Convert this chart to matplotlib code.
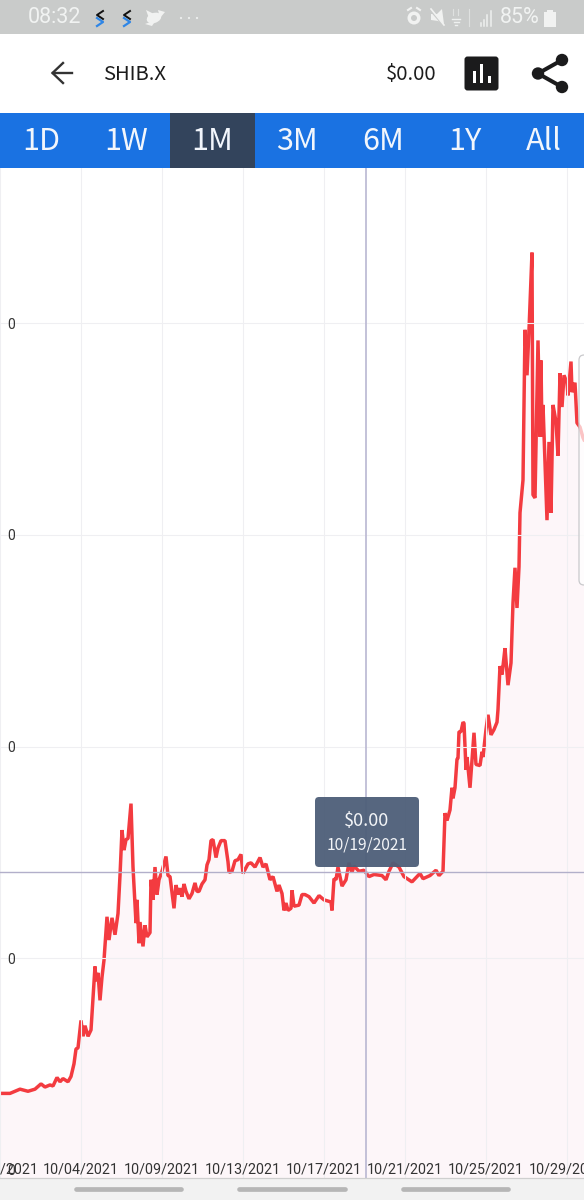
import matplotlib
matplotlib.use("Agg")
import matplotlib.pyplot as plt
from matplotlib.patches import FancyBboxPatch, Rectangle, Circle, Ellipse, Polygon

# SHIB.X hourly samples, price in units of 1e-5 USD
sample_idx = [0, 10, 20, 28, 35, 41, 45, 50, 53, 57, 60, 63, 68, 71, 74, 76, 78, 81, 83, 85,
              88, 91, 95, 96, 98, 100, 102, 104, 107, 109, 112, 115, 118, 120, 122, 124, 126, 128, 131, 133,
              136, 137, 139, 140, 143, 145, 147, 150, 151, 153, 155, 157, 159, 162, 166, 168, 170, 174, 176, 178,
              180, 182, 184, 186, 189, 192, 195, 197, 199, 202, 205, 207, 209, 211, 213, 216, 218, 221, 225, 228,
              229, 232, 235, 238, 241, 243, 248, 251, 255, 260, 263, 266, 270, 273, 277, 279, 282, 284, 286, 288,
              291, 292, 294, 299, 302, 305, 309, 314, 319, 324, 331, 332, 334, 336, 338, 342, 346, 349, 352, 354,
              359, 364, 369, 374, 382, 386, 389, 393, 399, 404, 412, 420, 423, 430, 436, 439, 443, 445, 447, 450,
              452, 453, 455, 457, 458, 459, 461, 463, 464, 466, 467, 470, 472, 474, 476, 480, 482, 483, 486, 488,
              491, 494, 497, 498, 500, 502, 503, 505, 508, 511, 513, 515, 517, 519, 520, 523, 525, 527, 529, 532,
              533, 535, 538, 540, 541, 542, 543, 545, 547, 549, 551, 553, 556, 558, 560, 562, 564, 567, 568, 571,
              572, 575, 577, 580, 583, 584]
price = [0.72, 0.72, 0.76, 0.74, 0.76, 0.81, 0.78, 0.80, 0.79, 0.87, 0.83, 0.86, 0.83, 0.88, 1.00, 1.14, 1.15, 1.41, 1.26, 1.36,
         1.26, 1.32, 1.92, 1.78, 1.86, 1.60, 1.82, 1.98, 2.39, 2.17, 2.38, 2.22, 2.42, 2.78, 3.21, 3.02, 3.12, 3.13, 3.46, 2.86,
         2.33, 2.55, 2.14, 2.34, 2.11, 2.31, 2.20, 2.24, 2.74, 2.55, 2.86, 2.60, 2.74, 2.82, 2.96, 2.78, 2.77, 2.47, 2.69, 2.60,
         2.66, 2.58, 2.70, 2.63, 2.56, 2.61, 2.71, 2.63, 2.63, 2.70, 2.74, 2.88, 2.93, 3.11, 3.12, 2.95, 3.04, 3.11, 3.11, 2.91,
         2.81, 2.82, 2.92, 2.93, 2.98, 2.80, 2.89, 2.90, 2.86, 2.95, 2.86, 2.89, 2.74, 2.77, 2.63, 2.69, 2.61, 2.45, 2.52, 2.45,
         2.47, 2.64, 2.49, 2.50, 2.60, 2.60, 2.58, 2.52, 2.59, 2.55, 2.53, 2.45, 2.75, 2.74, 2.86, 2.68, 2.74, 2.90, 2.81, 2.87,
         2.82, 2.83, 2.77, 2.79, 2.78, 2.74, 2.82, 2.90, 2.86, 2.77, 2.72, 2.80, 2.75, 2.78, 2.83, 2.78, 2.82, 3.37, 3.30, 3.40,
         3.61, 3.51, 3.61, 3.88, 3.89, 4.14, 4.14, 4.23, 4.22, 3.78, 3.90, 3.61, 3.87, 4.13, 3.83, 3.82, 3.95, 3.90, 4.16, 4.30,
         4.11, 4.16, 4.23, 4.35, 4.76, 4.68, 4.76, 4.93, 4.58, 4.79, 5.36, 5.69, 5.31, 5.70, 6.21, 6.52, 7.94, 7.51, 7.94, 8.67,
         6.38, 6.35, 7.84, 6.93, 7.65, 6.93, 7.23, 6.68, 6.14, 6.88, 6.21, 7.23, 7.07, 6.75, 7.53, 7.21, 7.51, 7.44, 7.32, 7.64,
         7.35, 7.44, 7.06, 7.02, 6.92, 6.90]

date_pos = [0, 81, 162, 243, 324, 405, 486, 567]
date_labels = ["09/30/2021", "10/04/2021", "10/09/2021", "10/13/2021", "10/17/2021",
               "10/21/2021", "10/25/2021", "10/29/2021"]
price_ticks = [0, 2, 4, 6, 8]
price_tick_labels = ["0", "0", "0", "0", "0"]
hover_idx = 366
hover_price = 2.81
range_tabs = ["1D", "1W", "1M", "3M", "6M", "1Y", "All"]
tab_centers = [41, 126, 212, 297, 383, 465, 544]

UI_FONT = ["Noto Sans CJK SC", "DejaVu Sans"]
RED = "#f33b40"
BLUE = "#1a72e2"
plt.rcParams["font.family"] = ["Roboto", "DejaVu Sans"]

fig = plt.figure(figsize=(5.84, 12), dpi=100, facecolor="white")

# price chart
ax = fig.add_axes([0, 22 / 1200, 1, 1010 / 1200])
ax.set_facecolor("white")
ax.set_xlim(0, 584)
ax.set_ylim(-0.08, 9.47)
ax.fill_between(sample_idx, price, -0.08, color="#fdf6f9", lw=0, zorder=1)
ax.plot(sample_idx, price, color=RED, lw=2.5, solid_joinstyle="bevel", zorder=2.5)
ax.axvline(hover_idx, color="#b9b7d2", lw=1.2, zorder=3)
ax.axhline(hover_price, color="#b2afca", lw=1.0, zorder=3)

ax.set_xticks(date_pos)
ax.set_xticklabels(date_labels, fontsize=10.3, color="#333333")
ax.set_yticks(price_ticks)
ax.set_yticklabels(price_tick_labels, fontsize=10, color="#333333")
ax.tick_params(axis="x", length=0, pad=-11.5)
ax.tick_params(axis="y", length=0, pad=-11)
ax.grid(True, color="#efeff2", lw=0.8, zorder=1.5)
ax.set_axisbelow(False)
ax.get_ygridlines()[0].set_visible(False)
for sp in ax.spines.values():
    sp.set_visible(False)
for lab in ax.get_xticklabels() + ax.get_yticklabels():
    lab.set_zorder(6)

# app chrome on top, in screen pixels
ui = fig.add_axes([0, 0, 1, 1], facecolor="none")
ui.set_xlim(0, 584)
ui.set_ylim(1200, 0)
ui.axis("off")

# status bar
ui.add_patch(Rectangle((0, 0), 584, 34, color="#c9cbca", lw=0))
ui.text(54.5, 17.5, "08:32", color="#f1f3f2", fontsize=15.5, ha="center", va="center")
for cx in (100, 127):
    ui.plot([cx + 3, cx - 3, cx + 3], [11, 15, 19], color="#111111", lw=1.4)
    ui.plot([cx - 3, cx + 3, cx - 3], [18, 22, 26], color="#2f86e6", lw=1.6)
# bird icon
ui.add_patch(Ellipse((154, 18), 15, 10, angle=-20, color="#f1f2f1", lw=0))
ui.add_patch(Polygon([[146, 10], [156, 15], [150, 21]], color="#f1f2f1", lw=0))
ui.add_patch(Polygon([[145, 24], [156, 20], [152, 26]], color="#f1f2f1", lw=0))
ui.add_patch(Polygon([[158, 10], [165, 12], [160, 18]], color="#f1f2f1", lw=0))
for cx in (181, 189, 197):
    ui.add_patch(Circle((cx, 18), 1.1, color="#eef0ef", lw=0))
# alarm, mute, wifi, signal icons
ui.add_patch(Circle((414, 18), 6.5, fc="#f1f2f1", ec="none"))
ui.add_patch(Circle((414, 18), 3, fc="#c9cbca", ec="none"))
ui.plot([408, 411], [10, 8], color="#f1f2f1", lw=1.5)
ui.plot([420, 417], [10, 8], color="#f1f2f1", lw=1.5)
ui.add_patch(Polygon([[431, 14], [437, 14], [442, 9], [444, 24], [438, 21], [431, 20]], color="#f1f2f1", lw=0))
ui.plot([430, 444], [10, 26], color="#c9cbca", lw=1.2)
ui.plot([431, 444], [9, 25], color="#f1f2f1", lw=1.2)
for w, y in ((8, 19), (5, 22), (2, 25)):
    ui.plot([456 - w / 2, 456 + w / 2], [y, y], color="#eef0ef", lw=1)
ui.plot([453, 453], [9, 15], color="#dfe1e0", lw=0.8)
ui.plot([458, 458], [9, 15], color="#dfe1e0", lw=0.8)
ui.plot([469, 469], [9, 26], color="#dfe1e0", lw=0.8)
for bx, top in ((481, 23), (484, 20), (487, 15), (491, 11)):
    ui.plot([bx, bx], [26, top], color="#eef0ef", lw=1.1)
ui.text(520, 17.5, "85%", color="#f1f3f2", fontsize=15.5, ha="center", va="center")
ui.add_patch(Rectangle((544, 12), 12, 15, color="#f1f2f1", lw=0))
ui.add_patch(Rectangle((547, 10), 6, 2, color="#f1f2f1", lw=0))

# header row
ui.plot([72, 53], [73, 73], color="#333333", lw=1.7)
ui.plot([63, 52.5, 63], [63, 73, 83], color="#333333", lw=1.7, solid_joinstyle="miter")
ui.text(103, 74, "SHIB.X", family=UI_FONT, fontsize=14.6, color="#1c1c1c", ha="left", va="center")
ui.text(411.5, 74, "$0.00", family=UI_FONT, fontsize=14.6, color="#1c1c1c", ha="center", va="center")
ui.add_patch(FancyBboxPatch((466, 58), 31, 31, boxstyle="round,pad=1.5,rounding_size=3", fc="#1b1b1c", ec="none"))
ui.add_patch(Rectangle((472.5, 71), 3.2, 12, color="white", lw=0))
ui.add_patch(Rectangle((480, 64), 3.2, 19, color="white", lw=0))
ui.add_patch(Rectangle((487.5, 76), 3.2, 7, color="white", lw=0))
ui.plot([562, 538, 562], [60, 73.5, 87], color="#1b1b1c", lw=2.9)
for cx, cy in ((562, 60), (538, 73.5), (562, 87)):
    ui.add_patch(Circle((cx, cy), 6.2, color="#1b1b1c", lw=0))

# range selector
ui.add_patch(Rectangle((0, 113), 584, 55, color=BLUE, lw=0))
ui.add_patch(Rectangle((169.5, 113), 85.5, 55, color="#33445c", lw=0))
for name, cx in zip(range_tabs, tab_centers):
    ui.text(cx, 141.5, name, family=UI_FONT, fontsize=22, color="#f2f6fc", ha="center", va="center")

# side panel edge over the right end of the line
ui.add_patch(FancyBboxPatch((584, 360), 12, 220, boxstyle="round,pad=5,rounding_size=5",
                            fc=(1, 1, 1, 0.7), ec="#c9c9cc", lw=0.9, clip_on=True))

# hover tooltip
ui.add_patch(FancyBboxPatch((318, 800), 98, 64, boxstyle="round,pad=3,rounding_size=4",
                            fc=(0.30, 0.37, 0.47, 0.95), ec="none"))
ui.text(367, 821, "$0.00", family=UI_FONT, fontsize=13, color="#f2f4f7", ha="center", va="center")
ui.text(367, 845, "10/19/2021", family=UI_FONT, fontsize=11.2, color="#f2f4f7", ha="center", va="center")

# bottom scroll strip
ui.add_patch(Rectangle((0, 1178), 584, 22, color="#f2f2f2", lw=0))
ui.plot([0, 584], [1178, 1178], color="#cfcfcf", lw=0.9)
for x0, x1 in ((74, 183), (237, 347), (401, 510)):
    ui.plot([x0 + 2, x1 - 2], [1189, 1189], color="#b6b6b6", lw=3.4, solid_capstyle="round")

fig.savefig("out.png", dpi=100)
